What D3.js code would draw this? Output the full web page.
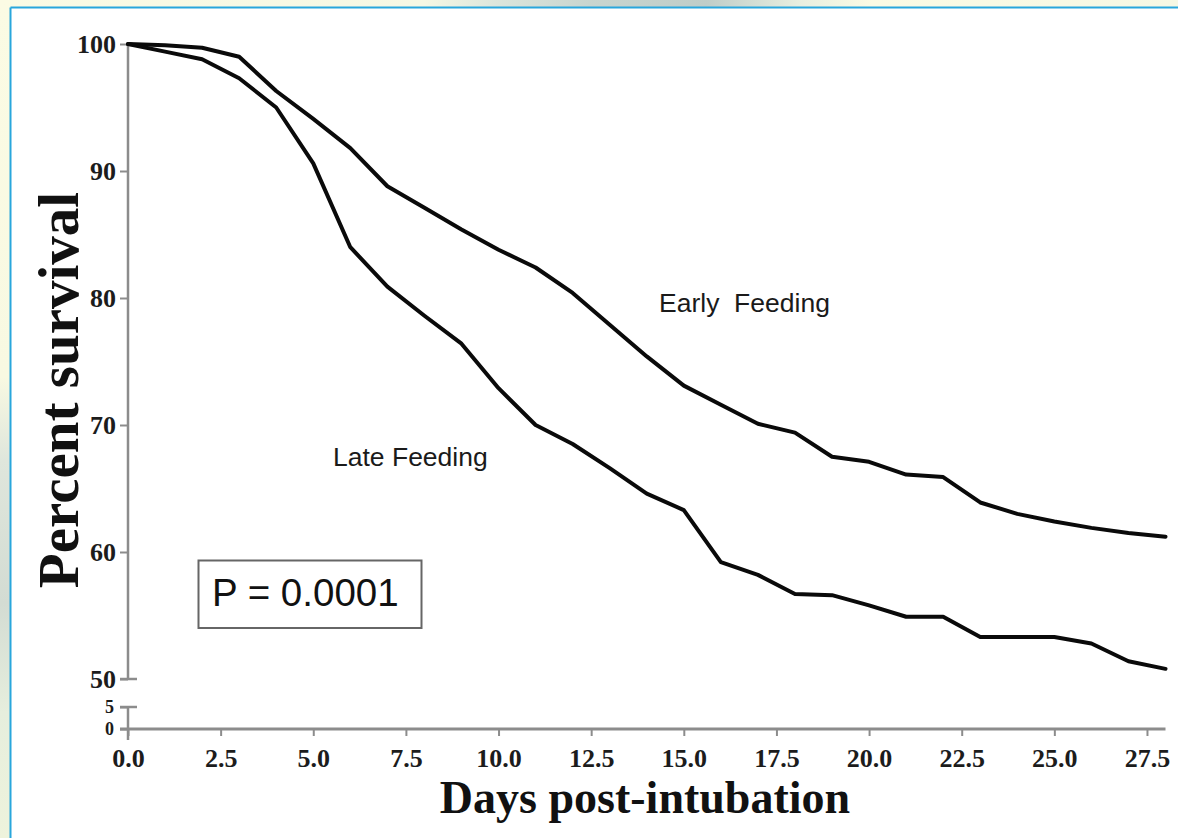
<!DOCTYPE html>
<html>
<head>
<meta charset="utf-8">
<script src="https://cdn.jsdelivr.net/npm/d3@7/dist/d3.min.js"></script>
<style>
  html, body { margin: 0; padding: 0; background: #ffffff; }
  svg { display: block; }
</style>
</head>
<body>
<svg id="chart" width="1178" height="838"></svg>
<script>
// Kaplan-Meier style survival curves, days 0..28
const days = [0, 1, 2, 3, 4, 5, 6, 7, 8, 9, 10, 11, 12, 13, 14, 15, 16, 17, 18, 19, 20, 21, 22, 23, 24, 25, 26, 27, 28];
const earlyFeeding = [100, 99.9, 99.7, 99.0, 96.3, 94.1, 91.8, 88.8, 87.1, 85.4, 83.8, 82.4, 80.4, 77.9, 75.4, 73.1, 71.6, 70.1, 69.4, 67.5, 67.1, 66.1, 65.9, 63.9, 63.0, 62.4, 61.9, 61.5, 61.2];
const lateFeeding = [100, 99.4, 98.8, 97.3, 95.0, 90.6, 84.0, 80.9, 78.6, 76.4, 72.9, 70.0, 68.5, 66.6, 64.6, 63.3, 59.2, 58.2, 56.7, 56.6, 55.8, 54.9, 54.9, 53.3, 53.3, 53.3, 52.8, 51.4, 50.8];

const seriesNames = ["Early  Feeding", "Late Feeding"];
const xTicks = [0, 2.5, 5, 7.5, 10, 12.5, 15, 17.5, 20, 22.5, 25, 27.5];
const yTicksUpper = [50, 60, 70, 80, 90, 100];
const yTicksLower = [0, 5];
const pValueText = "P = 0.0001";
const xTitle = "Days post-intubation";
const yTitle = "Percent survival";

const svg = d3.select("#chart");
const W = 1178, H = 838;

// Page frame: tinted margin strips and a blue rule
const defs = svg.append("defs");
const lg = defs.append("linearGradient").attr("id", "leftStrip").attr("x1", 0).attr("y1", 0).attr("x2", 0).attr("y2", 1);
[[0, "#fbfbe4"], [0.45, "#f8f9e2"], [0.55, "#dfe6dc"], [0.72, "#d3dcd3"], [0.85, "#e6eedd"], [1, "#eef3dc"]]
  .forEach(([o, c]) => lg.append("stop").attr("offset", o).attr("stop-color", c));
const tg = defs.append("linearGradient").attr("id", "topStrip").attr("x1", 0).attr("y1", 0).attr("x2", 1).attr("y2", 0);
[[0, "#fbfbe4"], [0.36, "#f6f8e4"], [0.42, "#dce6dc"], [0.5, "#c8d5cf"], [0.6, "#bfcdc8"], [0.68, "#e8efe0"], [0.74, "#fbfbe4"], [1, "#f6f8e4"]]
  .forEach(([o, c]) => tg.append("stop").attr("offset", o).attr("stop-color", c));

svg.append("rect").attr("x", 0).attr("y", 0).attr("width", W).attr("height", H).attr("fill", "#ffffff");
svg.append("rect").attr("x", 0).attr("y", 0).attr("width", W).attr("height", 7).attr("fill", "url(#topStrip)");
svg.append("rect").attr("x", 0).attr("y", 0).attr("width", 10).attr("height", H).attr("fill", "url(#leftStrip)");
svg.append("line").attr("x1", 10.5).attr("x2", W).attr("y1", 7.5).attr("y2", 7.5).attr("stroke", "#29a6dc").attr("stroke-width", 2);
svg.append("line").attr("x1", 10.5).attr("x2", 10.5).attr("y1", 7.5).attr("y2", H).attr("stroke", "#29a6dc").attr("stroke-width", 2);

// Scales (broken y axis: 50-100 above, 0-5 below)
const x = d3.scaleLinear().domain([0, 28]).range([128, 1165.5]);
const yUp = d3.scaleLinear().domain([50, 100]).range([679, 44]);
const yLow = d3.scaleLinear().domain([0, 5]).range([729, 707]);

const axisColor = "#8c8c8c";
const labelFont = "'Liberation Serif', 'Times New Roman', serif";

// x axis
const gx = svg.append("g").attr("transform", `translate(0,${yLow(0)})`)
  .call(d3.axisBottom(x).tickValues(xTicks).tickSize(7).tickPadding(13).tickFormat(d3.format(".1f")));
gx.select(".domain").remove();
gx.selectAll(".tick line").attr("stroke", axisColor).attr("stroke-width", 2);
gx.selectAll(".tick text").attr("font-family", labelFont).attr("font-weight", "bold")
  .attr("font-size", 26).attr("fill", "#1c1c1c");
svg.append("line").attr("x1", 120).attr("x2", x(28)).attr("y1", yLow(0)).attr("y2", yLow(0))
  .attr("stroke", axisColor).attr("stroke-width", 3);

// Upper y axis segment
const gyU = svg.append("g").attr("transform", `translate(${x(0)},0)`)
  .call(d3.axisLeft(yUp).tickValues(yTicksUpper).tickSize(8).tickPadding(4).tickFormat(d3.format("d")));
gyU.select(".domain").remove();
gyU.selectAll(".tick line").attr("stroke", axisColor).attr("stroke-width", 2);
gyU.selectAll(".tick text").attr("font-family", labelFont).attr("font-weight", "bold")
  .attr("font-size", 26).attr("fill", "#1c1c1c");
svg.append("line").attr("x1", x(0)).attr("x2", x(0)).attr("y1", yUp(100)).attr("y2", yUp(50))
  .attr("stroke", axisColor).attr("stroke-width", 2.5);
svg.append("line").attr("x1", 120).attr("x2", 137).attr("y1", yUp(50)).attr("y2", yUp(50))
  .attr("stroke", axisColor).attr("stroke-width", 2.5);

// Lower y axis segment
const gyL = svg.append("g").attr("transform", `translate(${x(0)},0)`)
  .call(d3.axisLeft(yLow).tickValues(yTicksLower).tickSize(8).tickPadding(6).tickFormat(d3.format("d")));
gyL.select(".domain").remove();
gyL.selectAll(".tick line").attr("stroke", axisColor).attr("stroke-width", 2);
gyL.selectAll(".tick text").attr("font-family", labelFont).attr("font-weight", "bold")
  .attr("font-size", 18).attr("fill", "#1c1c1c");
svg.append("line").attr("x1", x(0)).attr("x2", x(0)).attr("y1", yLow(5)).attr("y2", yLow(0) + 11)
  .attr("stroke", axisColor).attr("stroke-width", 2.5);
svg.append("line").attr("x1", 120).attr("x2", 137).attr("y1", yLow(5)).attr("y2", yLow(5))
  .attr("stroke", axisColor).attr("stroke-width", 2.5);

// Survival curves
const line = d3.line().x((d, i) => x(days[i])).y(d => yUp(d)).curve(d3.curveLinear);
[earlyFeeding, lateFeeding].forEach(s => {
  svg.append("path").datum(s).attr("d", line)
    .attr("fill", "none").attr("stroke", "#0a0a0a").attr("stroke-width", 4)
    .attr("stroke-linejoin", "round").attr("stroke-linecap", "round");
});

// Curve labels
const sans = "'Liberation Sans', Arial, sans-serif";
svg.append("text").attr("x", 659).attr("y", 312).attr("font-family", sans).attr("font-size", 26.5)
  .attr("fill", "#1a1a1a").attr("xml:space", "preserve").style("white-space", "pre").text(seriesNames[0]);
svg.append("text").attr("x", 333).attr("y", 466).attr("font-family", sans).attr("font-size", 26.5)
  .attr("fill", "#1a1a1a").text(seriesNames[1]);

// P-value box
svg.append("rect").attr("x", 198.5).attr("y", 560.5).attr("width", 223).attr("height", 67.5)
  .attr("fill", "#ffffff").attr("stroke", "#666666").attr("stroke-width", 2);
svg.append("text").attr("x", 212).attr("y", 606).attr("font-family", sans).attr("font-size", 38.5)
  .attr("fill", "#111111").text(pValueText);

// Axis titles
svg.append("text").attr("x", 645).attr("y", 813).attr("text-anchor", "middle")
  .attr("font-family", labelFont).attr("font-weight", "bold").attr("font-size", 46)
  .attr("fill", "#111111").text(xTitle);
svg.append("text").attr("transform", "translate(78,390) rotate(-90)").attr("text-anchor", "middle")
  .attr("font-family", labelFont).attr("font-weight", "bold").attr("font-size", 57)
  .attr("fill", "#111111").text(yTitle);
</script>
</body>
</html>
